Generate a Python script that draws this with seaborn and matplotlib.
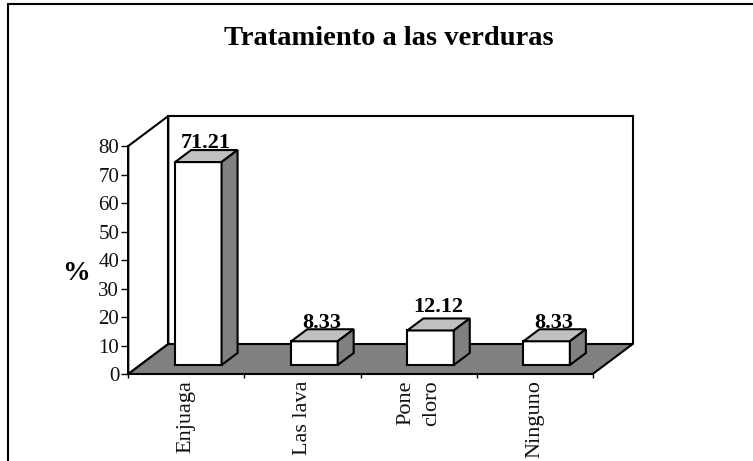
import matplotlib
matplotlib.use("Agg")
import matplotlib.pyplot as plt
import seaborn as sns
import pandas as pd
from matplotlib.lines import Line2D
from matplotlib.patches import Polygon
from matplotlib.transforms import Affine2D

categories = ["Enjuaga", "Las lava", "Pone\ncloro", "Ninguno"]
values = [71.21, 8.33, 12.12, 8.33]
value_labels = ["71.21", "8.33", "12.12", "8.33"]
y_ticks = [0, 10, 20, 30, 40, 50, 60, 70, 80]
title = "Tratamiento a las verduras"
y_label = "%"
label_lift_px = [2, 1, 6, 1]

W, H = 753, 461
sns.set_theme(style="white")
plt.rcParams["font.family"] = ["Liberation Serif", "DejaVu Serif"]

fig = plt.figure(figsize=(W / 100, H / 100), dpi=100, facecolor="white")
x0, x1, y0, y1 = 128.3, 592.7, 374.0, 146.0
ax = fig.add_axes([x0 / W, (H - y0) / H, (x1 - x0) / W, (y0 - y1) / H])
ax.patch.set_visible(False)

df = pd.DataFrame({"cat": categories, "val": values})
sns.barplot(data=df, x="cat", y="val", color="white", saturation=1, width=0.4,
            edgecolor="black", linewidth=1.5, ax=ax, zorder=5)
ax.set_xlim(-0.5, 3.5)
ax.set_ylim(0, 80)
ax.set_xlabel("")
ax.set_ylabel("")


def shift(dx, dy):
    return ax.transData + Affine2D().translate(dx, dy)


DX, DY = 40.0, 30.0   # wall depth, px
LW = 1.5
back = shift(DX, DY)
xa, xb = ax.get_xlim()
ya, yb = ax.get_ylim()
bars = list(ax.patches[:len(values)])

# floor
floor_pts = [ax.transData.transform((xa, ya)), ax.transData.transform((xb, ya)),
             back.transform((xb, ya)), back.transform((xa, ya))]
ax.add_patch(Polygon(floor_pts, closed=True, transform=None, facecolor="#808080",
                     edgecolor="black", linewidth=LW, zorder=2, clip_on=False))
# back wall
ax.plot([xa, xa, xb, xb], [ya, yb, yb, ya], color="black", lw=LW, transform=back,
        clip_on=False, zorder=2, solid_joinstyle="miter")
# side wall
left_pts = [ax.transData.transform((xa, ya)), ax.transData.transform((xa, yb)),
            back.transform((xa, yb)), back.transform((xa, ya))]
ax.add_patch(Polygon(left_pts, closed=True, transform=None, facecolor="white",
                     edgecolor="black", linewidth=LW, zorder=1, clip_on=False))

# bars: front face at 30 % of depth, box depth 40 %
fx, fy = DX * 0.30, DY * 0.30
bx, by = DX * 0.40, DY * 0.40
front = Affine2D().translate(fx, fy)
t = ax.transData + front
for bar, txt, lift in zip(bars, value_labels, label_lift_px):
    bar.set_transform(t)
    bar.set_clip_on(False)
    bar.set_joinstyle("miter")
    a = bar.get_x()
    b = bar.get_x() + bar.get_width()
    h = bar.get_height()
    p = lambda u, v, d=0.0: t.transform((u, v)) + [bx * d, by * d]
    ax.add_patch(Polygon([p(a, h), p(b, h), p(b, h, 1), p(a, h, 1)], closed=True,
                         transform=None, facecolor="#C0C0C0", edgecolor="black",
                         linewidth=LW, zorder=5, clip_on=False))
    ax.add_patch(Polygon([p(b, 0), p(b, h), p(b, h, 1), p(b, 0, 1)], closed=True,
                         transform=None, facecolor="#808080", edgecolor="black",
                         linewidth=LW, zorder=5, clip_on=False))
    ax.annotate(txt, xy=((a + b) / 2, h), xycoords=t, xytext=(7.5, by + lift),
                textcoords="offset pixels", ha="center", va="baseline", fontsize=16,
                fontweight="bold", color="black", zorder=7, annotation_clip=False)

# axes dressing
sns.despine(ax=ax, top=True, right=True)
for s in ("left", "bottom"):
    ax.spines[s].set_linewidth(1.4)
    ax.spines[s].set_color("black")
    ax.spines[s].set_zorder(3)
ax.set_yticks(y_ticks)
ax.tick_params(axis="y", length=5, width=1, pad=1.5, labelsize=15, color="black",
               labelcolor="#111111", left=True)
ax.set_xticks(range(len(categories)))
ax.set_xticklabels(categories, rotation=90, ha="center", va="top", fontsize=16,
                   color="#111111", linespacing=1.45, multialignment="center")
ax.tick_params(axis="x", which="major", length=0, pad=4.5)
ax.set_xticks([i - 0.5 for i in range(len(categories) + 1)], minor=True)
ax.tick_params(axis="x", which="minor", length=3, width=1, color="black", bottom=True)

fig.text(389 / W, 1 - 38.5 / H, title, ha="center", va="center", fontsize=20.5,
         fontweight="bold", color="black")
fig.text(76 / W, 1 - 273 / H, y_label, ha="center", va="center", fontsize=20,
         fontweight="bold", color="black")

# outer frame
fig.add_artist(Line2D([8 / W, 8 / W], [0, 1 - 4 / H], color="black", lw=1.5,
                      transform=fig.transFigure))
fig.add_artist(Line2D([8 / W, 1], [1 - 4 / H, 1 - 4 / H], color="black", lw=1.5,
                      transform=fig.transFigure))

fig.savefig("out.png", dpi=100, facecolor="white")
